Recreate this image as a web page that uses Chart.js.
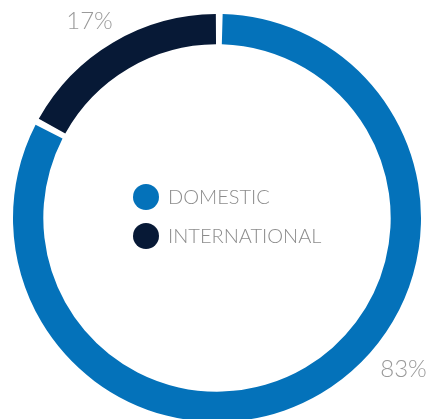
<!DOCTYPE html>
<html>
<head>
<meta charset="utf-8">
<script src="https://cdn.jsdelivr.net/npm/chart.js@4"></script>
<style>
  html, body { margin: 0; padding: 0; background: #fff; overflow: hidden; }
  #wrap { width: 437px; height: 440px; }
</style>
</head>
<body>
<div id="wrap"><canvas id="shareChart"></canvas></div>
<script>
// passenger share
const categories = ['DOMESTIC', 'INTERNATIONAL'];
const shares = [83, 17];
const shareLabels = ['83%', '17%'];
const colours = ['#0472BA', '#071936'];

// where the % text sits around the ring (degrees clockwise from top)
const labelAngles = [129, -33];
const labelGap = [38, 32];

const ringLabels = {
    id: 'ringLabels',
    afterDraw(chart) {
        const ctx = chart.ctx;
        const arc = chart.getDatasetMeta(0).data[0];
        const cx = arc.x, cy = arc.y, r = arc.outerRadius;

        ctx.save();
        ctx.textAlign = 'center';
        ctx.textBaseline = 'middle';
        ctx.fillStyle = '#9a9a9a';
        ctx.font = '300 24px Lato';
        shareLabels.forEach((txt, i) => {
            const a = labelAngles[i] * Math.PI / 180;
            const d = r + labelGap[i];
            ctx.fillText(txt, cx + Math.sin(a) * d, cy - Math.cos(a) * d);
        });

        // legend in the hole
        ctx.textAlign = 'left';
        ctx.font = '300 20px Lato';
        categories.forEach((name, i) => {
            const y = cy - 21 + i * 39;
            ctx.beginPath();
            ctx.arc(cx - 71, y, 13, 0, Math.PI * 2);
            ctx.fillStyle = colours[i];
            ctx.fill();
            ctx.fillStyle = '#8c8c8c';
            ctx.fillText(name, cx - 49, y + 1);
        });
        ctx.restore();
    }
};

new Chart(document.getElementById('shareChart'), {
    type: 'doughnut',
    data: {
        labels: categories,
        datasets: [{
            data: shares,
            backgroundColor: colours,
            borderWidth: 0,
            spacing: 4
        }]
    },
    options: {
        responsive: true,
        maintainAspectRatio: false,
        animation: false,
        cutout: '85%',
        layout: { padding: { left: 13, right: 16, top: 14, bottom: 18 } },
        plugins: {
            legend: { display: false },
            tooltip: { enabled: false }
        }
    },
    plugins: [ringLabels]
});
</script>
</body>
</html>
